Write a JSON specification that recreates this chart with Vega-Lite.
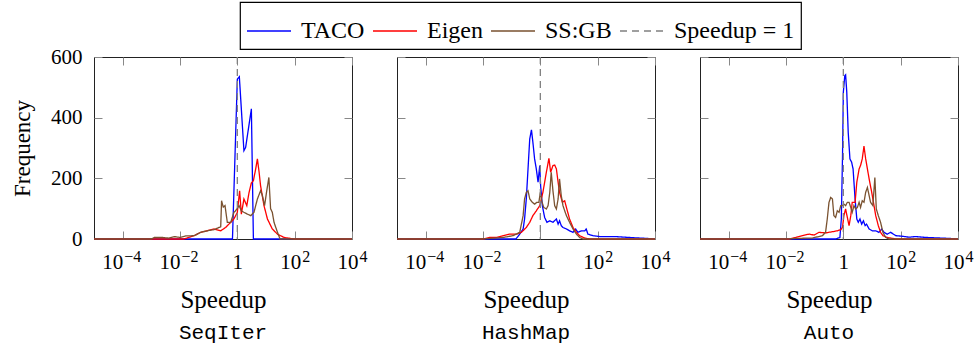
{
 "$schema": "https://vega.github.io/schema/vega-lite/v6.json",
 "background": "white",
 "padding": {"left": 11, "top": 1, "right": 5, "bottom": 5},
 "config": {
  "font": "Liberation Serif",
  "view": {"stroke": "#222222", "strokeWidth": 1},
  "axis": {"labelColor": "black", "titleColor": "black", "labelFont": "Liberation Serif", "titleFont": "Liberation Serif", "titleFontWeight": "normal", "grid": false, "domain": false, "tickColor": "#888888", "tickWidth": 1, "labelFlush": false, "labelOverlap": false, "labelBound": false},
  "legend": {"labelFont": "Liberation Serif", "labelFontSize": 24, "labelColor": "black", "strokeColor": "black", "strokeWidth": 1.2, "fillColor": "white", "padding": 6, "symbolType": "stroke", "symbolSize": 1936, "symbolStrokeWidth": 1.3, "labelOffset": 9, "columnPadding": 5, "labelLimit": 400}
 },
 "data": {"values": [
  {"p":"SeqIter","s":"TACO","x":0.00001,"y":0},{"p":"SeqIter","s":"TACO","x":0.676,"y":0},{"p":"SeqIter","s":"TACO","x":1,"y":527},{"p":"SeqIter","s":"TACO","x":1.175,"y":535},{"p":"SeqIter","s":"TACO","x":1.698,"y":291},{"p":"SeqIter","s":"TACO","x":1.95,"y":302},{"p":"SeqIter","s":"TACO","x":3.09,"y":429},{"p":"SeqIter","s":"TACO","x":3.63,"y":0},{"p":"SeqIter","s":"TACO","x":10000,"y":0},
  {"p":"SeqIter","s":"Eigen","x":0.00001,"y":0},{"p":"SeqIter","s":"Eigen","x":0.0132,"y":0},{"p":"SeqIter","s":"Eigen","x":0.02,"y":5},{"p":"SeqIter","s":"Eigen","x":0.0309,"y":11},{"p":"SeqIter","s":"Eigen","x":0.0525,"y":22},{"p":"SeqIter","s":"Eigen","x":0.0891,"y":27},{"p":"SeqIter","s":"Eigen","x":0.155,"y":33},{"p":"SeqIter","s":"Eigen","x":0.263,"y":27},{"p":"SeqIter","s":"Eigen","x":0.389,"y":38},{"p":"SeqIter","s":"Eigen","x":0.589,"y":55},{"p":"SeqIter","s":"Eigen","x":0.759,"y":66},{"p":"SeqIter","s":"Eigen","x":1,"y":88},{"p":"SeqIter","s":"Eigen","x":1.202,"y":159},{"p":"SeqIter","s":"Eigen","x":1.38,"y":82},{"p":"SeqIter","s":"Eigen","x":1.698,"y":132},{"p":"SeqIter","s":"Eigen","x":2.138,"y":110},{"p":"SeqIter","s":"Eigen","x":2.57,"y":154},{"p":"SeqIter","s":"Eigen","x":3.09,"y":185},{"p":"SeqIter","s":"Eigen","x":3.631,"y":192},{"p":"SeqIter","s":"Eigen","x":4.365,"y":231},{"p":"SeqIter","s":"Eigen","x":5.012,"y":264},{"p":"SeqIter","s":"Eigen","x":5.754,"y":220},{"p":"SeqIter","s":"Eigen","x":6.457,"y":176},{"p":"SeqIter","s":"Eigen","x":8.511,"y":110},{"p":"SeqIter","s":"Eigen","x":11.22,"y":66},{"p":"SeqIter","s":"Eigen","x":16.6,"y":33},{"p":"SeqIter","s":"Eigen","x":25.1,"y":16},{"p":"SeqIter","s":"Eigen","x":42.7,"y":5},{"p":"SeqIter","s":"Eigen","x":95.5,"y":0},{"p":"SeqIter","s":"Eigen","x":10000,"y":0},
  {"p":"SeqIter","s":"SS:GB","x":0.00001,"y":0},{"p":"SeqIter","s":"SS:GB","x":0.001,"y":0},{"p":"SeqIter","s":"SS:GB","x":0.00126,"y":5},{"p":"SeqIter","s":"SS:GB","x":0.00251,"y":5},{"p":"SeqIter","s":"SS:GB","x":0.00398,"y":3},{"p":"SeqIter","s":"SS:GB","x":0.00631,"y":8},{"p":"SeqIter","s":"SS:GB","x":0.01,"y":5},{"p":"SeqIter","s":"SS:GB","x":0.0158,"y":10},{"p":"SeqIter","s":"SS:GB","x":0.0316,"y":11},{"p":"SeqIter","s":"SS:GB","x":0.0525,"y":22},{"p":"SeqIter","s":"SS:GB","x":0.0891,"y":27},{"p":"SeqIter","s":"SS:GB","x":0.155,"y":31},{"p":"SeqIter","s":"SS:GB","x":0.229,"y":38},{"p":"SeqIter","s":"SS:GB","x":0.263,"y":40},{"p":"SeqIter","s":"SS:GB","x":0.282,"y":126},{"p":"SeqIter","s":"SS:GB","x":0.324,"y":105},{"p":"SeqIter","s":"SS:GB","x":0.372,"y":110},{"p":"SeqIter","s":"SS:GB","x":0.447,"y":55},{"p":"SeqIter","s":"SS:GB","x":0.589,"y":55},{"p":"SeqIter","s":"SS:GB","x":0.759,"y":88},{"p":"SeqIter","s":"SS:GB","x":0.871,"y":93},{"p":"SeqIter","s":"SS:GB","x":1.148,"y":110},{"p":"SeqIter","s":"SS:GB","x":1.38,"y":93},{"p":"SeqIter","s":"SS:GB","x":1.698,"y":88},{"p":"SeqIter","s":"SS:GB","x":2.239,"y":82},{"p":"SeqIter","s":"SS:GB","x":2.951,"y":77},{"p":"SeqIter","s":"SS:GB","x":3.802,"y":88},{"p":"SeqIter","s":"SS:GB","x":5.012,"y":132},{"p":"SeqIter","s":"SS:GB","x":6.457,"y":159},{"p":"SeqIter","s":"SS:GB","x":7.413,"y":145},{"p":"SeqIter","s":"SS:GB","x":8.913,"y":110},{"p":"SeqIter","s":"SS:GB","x":10.47,"y":155},{"p":"SeqIter","s":"SS:GB","x":12.59,"y":203},{"p":"SeqIter","s":"SS:GB","x":14.45,"y":100},{"p":"SeqIter","s":"SS:GB","x":16.6,"y":88},{"p":"SeqIter","s":"SS:GB","x":19.05,"y":55},{"p":"SeqIter","s":"SS:GB","x":25.12,"y":22},{"p":"SeqIter","s":"SS:GB","x":30.9,"y":0},{"p":"SeqIter","s":"SS:GB","x":10000,"y":0},
  {"p":"SeqIter","s":"Speedup = 1","x":1,"y":0},
  {"p":"HashMap","s":"TACO","x":0.00001,"y":0},{"p":"HashMap","s":"TACO","x":0.141,"y":0},{"p":"HashMap","s":"TACO","x":0.191,"y":16},{"p":"HashMap","s":"TACO","x":0.251,"y":33},{"p":"HashMap","s":"TACO","x":0.282,"y":66},{"p":"HashMap","s":"TACO","x":0.324,"y":132},{"p":"HashMap","s":"TACO","x":0.372,"y":231},{"p":"HashMap","s":"TACO","x":0.427,"y":330},{"p":"HashMap","s":"TACO","x":0.49,"y":360},{"p":"HashMap","s":"TACO","x":0.55,"y":319},{"p":"HashMap","s":"TACO","x":0.631,"y":264},{"p":"HashMap","s":"TACO","x":0.724,"y":231},{"p":"HashMap","s":"TACO","x":0.832,"y":187},{"p":"HashMap","s":"TACO","x":0.955,"y":242},{"p":"HashMap","s":"TACO","x":1.023,"y":176},{"p":"HashMap","s":"TACO","x":1.175,"y":110},{"p":"HashMap","s":"TACO","x":1.413,"y":71},{"p":"HashMap","s":"TACO","x":1.698,"y":55},{"p":"HashMap","s":"TACO","x":2.138,"y":60},{"p":"HashMap","s":"TACO","x":2.754,"y":55},{"p":"HashMap","s":"TACO","x":3.631,"y":66},{"p":"HashMap","s":"TACO","x":4.169,"y":49},{"p":"HashMap","s":"TACO","x":4.677,"y":60},{"p":"HashMap","s":"TACO","x":5.37,"y":44},{"p":"HashMap","s":"TACO","x":6.166,"y":38},{"p":"HashMap","s":"TACO","x":8.128,"y":33},{"p":"HashMap","s":"TACO","x":10.47,"y":27},{"p":"HashMap","s":"TACO","x":13.8,"y":22},{"p":"HashMap","s":"TACO","x":17.0,"y":33},{"p":"HashMap","s":"TACO","x":20.4,"y":22},{"p":"HashMap","s":"TACO","x":26.9,"y":27},{"p":"HashMap","s":"TACO","x":35.5,"y":27},{"p":"HashMap","s":"TACO","x":39.8,"y":33},{"p":"HashMap","s":"TACO","x":45.7,"y":16},{"p":"HashMap","s":"TACO","x":69.2,"y":11},{"p":"HashMap","s":"TACO","x":117.5,"y":8},{"p":"HashMap","s":"TACO","x":200,"y":8},{"p":"HashMap","s":"TACO","x":398,"y":8},{"p":"HashMap","s":"TACO","x":1259,"y":5},{"p":"HashMap","s":"TACO","x":5012,"y":2},{"p":"HashMap","s":"TACO","x":10000,"y":0},
  {"p":"HashMap","s":"Eigen","x":0.00001,"y":0},{"p":"HashMap","s":"Eigen","x":0.01,"y":0},{"p":"HashMap","s":"Eigen","x":0.017,"y":5},{"p":"HashMap","s":"Eigen","x":0.0295,"y":5},{"p":"HashMap","s":"Eigen","x":0.0501,"y":11},{"p":"HashMap","s":"Eigen","x":0.0851,"y":16},{"p":"HashMap","s":"Eigen","x":0.145,"y":16},{"p":"HashMap","s":"Eigen","x":0.219,"y":22},{"p":"HashMap","s":"Eigen","x":0.324,"y":38},{"p":"HashMap","s":"Eigen","x":0.427,"y":55},{"p":"HashMap","s":"Eigen","x":0.55,"y":77},{"p":"HashMap","s":"Eigen","x":0.724,"y":93},{"p":"HashMap","s":"Eigen","x":0.955,"y":110},{"p":"HashMap","s":"Eigen","x":1.23,"y":154},{"p":"HashMap","s":"Eigen","x":1.622,"y":220},{"p":"HashMap","s":"Eigen","x":1.995,"y":266},{"p":"HashMap","s":"Eigen","x":2.291,"y":220},{"p":"HashMap","s":"Eigen","x":2.754,"y":242},{"p":"HashMap","s":"Eigen","x":3.162,"y":244},{"p":"HashMap","s":"Eigen","x":3.631,"y":231},{"p":"HashMap","s":"Eigen","x":4.169,"y":187},{"p":"HashMap","s":"Eigen","x":4.677,"y":154},{"p":"HashMap","s":"Eigen","x":5.888,"y":121},{"p":"HashMap","s":"Eigen","x":7.079,"y":126},{"p":"HashMap","s":"Eigen","x":8.128,"y":104},{"p":"HashMap","s":"Eigen","x":10.47,"y":66},{"p":"HashMap","s":"Eigen","x":13.8,"y":38},{"p":"HashMap","s":"Eigen","x":18.2,"y":22},{"p":"HashMap","s":"Eigen","x":23.4,"y":11},{"p":"HashMap","s":"Eigen","x":35.5,"y":3},{"p":"HashMap","s":"Eigen","x":52.5,"y":0},{"p":"HashMap","s":"Eigen","x":10000,"y":0},
  {"p":"HashMap","s":"SS:GB","x":0.00001,"y":0},{"p":"HashMap","s":"SS:GB","x":0.01,"y":0},{"p":"HashMap","s":"SS:GB","x":0.017,"y":2},{"p":"HashMap","s":"SS:GB","x":0.0501,"y":5},{"p":"HashMap","s":"SS:GB","x":0.112,"y":11},{"p":"HashMap","s":"SS:GB","x":0.191,"y":22},{"p":"HashMap","s":"SS:GB","x":0.251,"y":77},{"p":"HashMap","s":"SS:GB","x":0.282,"y":132},{"p":"HashMap","s":"SS:GB","x":0.324,"y":154},{"p":"HashMap","s":"SS:GB","x":0.372,"y":159},{"p":"HashMap","s":"SS:GB","x":0.427,"y":132},{"p":"HashMap","s":"SS:GB","x":0.525,"y":121},{"p":"HashMap","s":"SS:GB","x":0.631,"y":115},{"p":"HashMap","s":"SS:GB","x":0.759,"y":121},{"p":"HashMap","s":"SS:GB","x":0.891,"y":121},{"p":"HashMap","s":"SS:GB","x":1,"y":154},{"p":"HashMap","s":"SS:GB","x":1.148,"y":121},{"p":"HashMap","s":"SS:GB","x":1.318,"y":104},{"p":"HashMap","s":"SS:GB","x":1.622,"y":99},{"p":"HashMap","s":"SS:GB","x":1.862,"y":110},{"p":"HashMap","s":"SS:GB","x":2.138,"y":154},{"p":"HashMap","s":"SS:GB","x":2.399,"y":220},{"p":"HashMap","s":"SS:GB","x":2.754,"y":159},{"p":"HashMap","s":"SS:GB","x":3.162,"y":110},{"p":"HashMap","s":"SS:GB","x":3.631,"y":99},{"p":"HashMap","s":"SS:GB","x":4.169,"y":132},{"p":"HashMap","s":"SS:GB","x":4.677,"y":198},{"p":"HashMap","s":"SS:GB","x":5.37,"y":143},{"p":"HashMap","s":"SS:GB","x":6.166,"y":110},{"p":"HashMap","s":"SS:GB","x":7.079,"y":93},{"p":"HashMap","s":"SS:GB","x":8.128,"y":77},{"p":"HashMap","s":"SS:GB","x":10.47,"y":55},{"p":"HashMap","s":"SS:GB","x":13.8,"y":33},{"p":"HashMap","s":"SS:GB","x":18.2,"y":16},{"p":"HashMap","s":"SS:GB","x":23.4,"y":5},{"p":"HashMap","s":"SS:GB","x":30.9,"y":0},{"p":"HashMap","s":"SS:GB","x":10000,"y":0},
  {"p":"HashMap","s":"Speedup = 1","x":1,"y":0},
  {"p":"Auto","s":"TACO","x":0.00001,"y":0},{"p":"Auto","s":"TACO","x":0.537,"y":0},{"p":"Auto","s":"TACO","x":0.759,"y":5},{"p":"Auto","s":"TACO","x":0.851,"y":66},{"p":"Auto","s":"TACO","x":0.933,"y":264},{"p":"Auto","s":"TACO","x":1,"y":484},{"p":"Auto","s":"TACO","x":1.122,"y":538},{"p":"Auto","s":"TACO","x":1.202,"y":541},{"p":"Auto","s":"TACO","x":1.318,"y":484},{"p":"Auto","s":"TACO","x":1.479,"y":352},{"p":"Auto","s":"TACO","x":1.698,"y":264},{"p":"Auto","s":"TACO","x":1.95,"y":253},{"p":"Auto","s":"TACO","x":2.188,"y":231},{"p":"Auto","s":"TACO","x":2.57,"y":132},{"p":"Auto","s":"TACO","x":2.951,"y":66},{"p":"Auto","s":"TACO","x":3.311,"y":55},{"p":"Auto","s":"TACO","x":3.802,"y":66},{"p":"Auto","s":"TACO","x":4.365,"y":49},{"p":"Auto","s":"TACO","x":5.012,"y":60},{"p":"Auto","s":"TACO","x":5.754,"y":44},{"p":"Auto","s":"TACO","x":6.457,"y":49},{"p":"Auto","s":"TACO","x":7.943,"y":33},{"p":"Auto","s":"TACO","x":10.23,"y":27},{"p":"Auto","s":"TACO","x":13.49,"y":27},{"p":"Auto","s":"TACO","x":17.38,"y":22},{"p":"Auto","s":"TACO","x":21.88,"y":33},{"p":"Auto","s":"TACO","x":26.3,"y":22},{"p":"Auto","s":"TACO","x":33.9,"y":16},{"p":"Auto","s":"TACO","x":44.7,"y":22},{"p":"Auto","s":"TACO","x":67.6,"y":11},{"p":"Auto","s":"TACO","x":114.8,"y":9},{"p":"Auto","s":"TACO","x":195,"y":6},{"p":"Auto","s":"TACO","x":331,"y":8},{"p":"Auto","s":"TACO","x":794,"y":5},{"p":"Auto","s":"TACO","x":5012,"y":2},{"p":"Auto","s":"TACO","x":10000,"y":0},
  {"p":"Auto","s":"Eigen","x":0.00001,"y":0},{"p":"Auto","s":"Eigen","x":0.0126,"y":0},{"p":"Auto","s":"Eigen","x":0.0219,"y":5},{"p":"Auto","s":"Eigen","x":0.0372,"y":11},{"p":"Auto","s":"Eigen","x":0.0631,"y":16},{"p":"Auto","s":"Eigen","x":0.0955,"y":13},{"p":"Auto","s":"Eigen","x":0.141,"y":22},{"p":"Auto","s":"Eigen","x":0.24,"y":20},{"p":"Auto","s":"Eigen","x":0.417,"y":24},{"p":"Auto","s":"Eigen","x":0.617,"y":27},{"p":"Auto","s":"Eigen","x":0.813,"y":31},{"p":"Auto","s":"Eigen","x":0.933,"y":38},{"p":"Auto","s":"Eigen","x":1.047,"y":77},{"p":"Auto","s":"Eigen","x":1.202,"y":99},{"p":"Auto","s":"Eigen","x":1.38,"y":71},{"p":"Auto","s":"Eigen","x":1.585,"y":44},{"p":"Auto","s":"Eigen","x":1.82,"y":77},{"p":"Auto","s":"Eigen","x":2.042,"y":121},{"p":"Auto","s":"Eigen","x":2.57,"y":121},{"p":"Auto","s":"Eigen","x":2.951,"y":187},{"p":"Auto","s":"Eigen","x":3.548,"y":231},{"p":"Auto","s":"Eigen","x":3.981,"y":242},{"p":"Auto","s":"Eigen","x":4.571,"y":264},{"p":"Auto","s":"Eigen","x":5.248,"y":306},{"p":"Auto","s":"Eigen","x":6.026,"y":264},{"p":"Auto","s":"Eigen","x":6.918,"y":231},{"p":"Auto","s":"Eigen","x":7.943,"y":198},{"p":"Auto","s":"Eigen","x":9.772,"y":154},{"p":"Auto","s":"Eigen","x":11.75,"y":110},{"p":"Auto","s":"Eigen","x":13.49,"y":77},{"p":"Auto","s":"Eigen","x":16.6,"y":44},{"p":"Auto","s":"Eigen","x":19.95,"y":22},{"p":"Auto","s":"Eigen","x":23.99,"y":11},{"p":"Auto","s":"Eigen","x":33.9,"y":5},{"p":"Auto","s":"Eigen","x":67.6,"y":0},{"p":"Auto","s":"Eigen","x":10000,"y":0},
  {"p":"Auto","s":"SS:GB","x":0.00001,"y":0},{"p":"Auto","s":"SS:GB","x":0.01,"y":0},{"p":"Auto","s":"SS:GB","x":0.0219,"y":2},{"p":"Auto","s":"SS:GB","x":0.0832,"y":3},{"p":"Auto","s":"SS:GB","x":0.186,"y":11},{"p":"Auto","s":"SS:GB","x":0.24,"y":22},{"p":"Auto","s":"SS:GB","x":0.275,"y":66},{"p":"Auto","s":"SS:GB","x":0.316,"y":121},{"p":"Auto","s":"SS:GB","x":0.363,"y":137},{"p":"Auto","s":"SS:GB","x":0.417,"y":132},{"p":"Auto","s":"SS:GB","x":0.468,"y":77},{"p":"Auto","s":"SS:GB","x":0.537,"y":71},{"p":"Auto","s":"SS:GB","x":0.617,"y":93},{"p":"Auto","s":"SS:GB","x":0.708,"y":88},{"p":"Auto","s":"SS:GB","x":0.813,"y":110},{"p":"Auto","s":"SS:GB","x":0.933,"y":110},{"p":"Auto","s":"SS:GB","x":1.047,"y":115},{"p":"Auto","s":"SS:GB","x":1.202,"y":110},{"p":"Auto","s":"SS:GB","x":1.38,"y":121},{"p":"Auto","s":"SS:GB","x":1.585,"y":121},{"p":"Auto","s":"SS:GB","x":1.82,"y":104},{"p":"Auto","s":"SS:GB","x":2.042,"y":88},{"p":"Auto","s":"SS:GB","x":2.344,"y":110},{"p":"Auto","s":"SS:GB","x":2.692,"y":99},{"p":"Auto","s":"SS:GB","x":3.09,"y":104},{"p":"Auto","s":"SS:GB","x":3.548,"y":121},{"p":"Auto","s":"SS:GB","x":3.981,"y":104},{"p":"Auto","s":"SS:GB","x":4.571,"y":126},{"p":"Auto","s":"SS:GB","x":5.248,"y":121},{"p":"Auto","s":"SS:GB","x":6.026,"y":154},{"p":"Auto","s":"SS:GB","x":6.918,"y":170},{"p":"Auto","s":"SS:GB","x":7.943,"y":143},{"p":"Auto","s":"SS:GB","x":8.913,"y":121},{"p":"Auto","s":"SS:GB","x":10.72,"y":110},{"p":"Auto","s":"SS:GB","x":12.59,"y":203},{"p":"Auto","s":"SS:GB","x":14.13,"y":99},{"p":"Auto","s":"SS:GB","x":16.6,"y":77},{"p":"Auto","s":"SS:GB","x":19.95,"y":55},{"p":"Auto","s":"SS:GB","x":23.99,"y":22},{"p":"Auto","s":"SS:GB","x":30.2,"y":5},{"p":"Auto","s":"SS:GB","x":38.9,"y":0},{"p":"Auto","s":"SS:GB","x":10000,"y":0},
  {"p":"Auto","s":"Speedup = 1","x":1,"y":0}
 ]},
 "spacing": 45,
 "bounds": "flush",
 "resolve": {"scale": {"color": "shared", "strokeDash": "shared"}, "legend": {"color": "shared", "strokeDash": "shared"}},
 "hconcat": [
  {
   "width": 258, "height": 182,
   "title": {"text": "SeqIter", "orient": "bottom", "font": "Liberation Mono", "fontSize": 21, "fontWeight": "normal", "color": "black", "offset": 10},
   "transform": [{"filter": "datum.p == 'SeqIter'"}],
   "resolve": {"axis": {"x": "independent", "y": "independent"}},
   "layer": [
    {"transform": [{"filter": "datum.s != 'Speedup = 1'"}],
     "mark": {"type": "line", "strokeWidth": 1.3},
     "encoding": {
      "x": {"field": "x", "type": "quantitative", "scale": {"type": "log", "domain": [0.00001, 10000]}, "axis": {"orient": "bottom", "values": [0.0001, 0.01, 1, 100, 10000], "labelExpr": "datum.value == 1 ? '1' : '10'", "labelAlign": {"condition": {"test": "datum.value == 1", "value": "center"}, "value": "right"}, "labelOffset": {"condition": {"test": "datum.value > 1", "value": 6}, "value": 0}, "labelFontSize": 21, "tickSize": -8, "labelPadding": 20, "title": "Speedup", "titleFontSize": 25, "titlePadding": 15}},
      "y": {"field": "y", "type": "quantitative", "scale": {"domain": [0, 600]}, "axis": {"orient": "left", "values": [0, 200, 400, 600], "labelFontSize": 21, "tickSize": -8, "labelPadding": 20, "title": "Frequency", "titleFontSize": 23, "titlePadding": 16}},
      "color": {"field": "s", "type": "nominal", "scale": {"domain": ["TACO", "Eigen", "SS:GB", "Speedup = 1"], "range": ["#0000ff", "#ff0000", "#7a5230", "#808080"]}, "legend": {"title": null, "orient": "none", "direction": "horizontal", "legendX": 146, "legendY": -55}},
      "strokeDash": {"field": "s", "type": "nominal", "scale": {"domain": ["TACO", "Eigen", "SS:GB", "Speedup = 1"], "range": [[1, 0], [1, 0], [1, 0], [7, 5]]}, "legend": {"title": null, "orient": "none", "direction": "horizontal", "legendX": 146, "legendY": -55}}
     }},
    {"transform": [{"filter": "datum.s == 'Speedup = 1'"}],
     "mark": {"type": "rule", "strokeWidth": 1.3},
     "encoding": {
      "x": {"field": "x", "type": "quantitative", "scale": {"type": "log", "domain": [0.00001, 10000]}, "axis": {"orient": "top", "values": [0.0001, 0.01, 1, 100, 10000], "labels": false, "tickSize": -8, "title": null}},
      "color": {"field": "s", "type": "nominal", "scale": {"domain": ["TACO", "Eigen", "SS:GB", "Speedup = 1"], "range": ["#0000ff", "#ff0000", "#7a5230", "#808080"]}, "legend": {"title": null, "orient": "none", "direction": "horizontal", "legendX": 146, "legendY": -55}},
      "strokeDash": {"field": "s", "type": "nominal", "scale": {"domain": ["TACO", "Eigen", "SS:GB", "Speedup = 1"], "range": [[1, 0], [1, 0], [1, 0], [7, 5]]}, "legend": {"title": null, "orient": "none", "direction": "horizontal", "legendX": 146, "legendY": -55}}
     }},
    {"transform": [{"filter": "datum.s != 'Speedup = 1'"}],
     "mark": {"type": "line", "strokeOpacity": 0},
     "encoding": {
      "x": {"field": "x", "type": "quantitative", "scale": {"type": "log", "domain": [0.00001, 10000]}, "axis": {"orient": "bottom", "values": [0.0001, 0.01, 1, 100, 10000], "ticks": false, "labelExpr": "datum.value < 0.001 ? '−4' : datum.value < 0.1 ? '−2' : datum.value < 10 ? '' : datum.value < 1000 ? '2' : '4'", "labelAlign": "left", "labelOffset": {"condition": {"test": "datum.value > 1", "value": 7}, "value": 1}, "labelFontSize": 16, "labelPadding": 9, "title": null}},
      "y": {"field": "y", "type": "quantitative", "scale": {"domain": [0, 600]}, "axis": {"orient": "right", "values": [0, 200, 400, 600], "labels": false, "tickSize": -8, "title": null}},
      "detail": {"field": "s", "type": "nominal"}
     }}
   ]
  },
  {
   "width": 258, "height": 182,
   "title": {"text": "HashMap", "orient": "bottom", "font": "Liberation Mono", "fontSize": 21, "fontWeight": "normal", "color": "black", "offset": 10},
   "transform": [{"filter": "datum.p == 'HashMap'"}],
   "resolve": {"axis": {"x": "independent", "y": "independent"}},
   "layer": [
    {"transform": [{"filter": "datum.s != 'Speedup = 1'"}],
     "mark": {"type": "line", "strokeWidth": 1.3},
     "encoding": {
      "x": {"field": "x", "type": "quantitative", "scale": {"type": "log", "domain": [0.00001, 10000]}, "axis": {"orient": "bottom", "values": [0.0001, 0.01, 1, 100, 10000], "labelExpr": "datum.value == 1 ? '1' : '10'", "labelAlign": {"condition": {"test": "datum.value == 1", "value": "center"}, "value": "right"}, "labelOffset": {"condition": {"test": "datum.value > 1", "value": 6}, "value": 0}, "labelFontSize": 21, "tickSize": -8, "labelPadding": 20, "title": "Speedup", "titleFontSize": 25, "titlePadding": 15}},
      "y": {"field": "y", "type": "quantitative", "scale": {"domain": [0, 600]}, "axis": {"orient": "left", "values": [0, 200, 400, 600], "labels": false, "tickSize": -8, "title": null}},
      "color": {"field": "s", "type": "nominal", "scale": {"domain": ["TACO", "Eigen", "SS:GB", "Speedup = 1"], "range": ["#0000ff", "#ff0000", "#7a5230", "#808080"]}, "legend": {"title": null, "orient": "none", "direction": "horizontal", "legendX": 146, "legendY": -55}},
      "strokeDash": {"field": "s", "type": "nominal", "scale": {"domain": ["TACO", "Eigen", "SS:GB", "Speedup = 1"], "range": [[1, 0], [1, 0], [1, 0], [7, 5]]}, "legend": {"title": null, "orient": "none", "direction": "horizontal", "legendX": 146, "legendY": -55}}
     }},
    {"transform": [{"filter": "datum.s == 'Speedup = 1'"}],
     "mark": {"type": "rule", "strokeWidth": 1.3},
     "encoding": {
      "x": {"field": "x", "type": "quantitative", "scale": {"type": "log", "domain": [0.00001, 10000]}, "axis": {"orient": "top", "values": [0.0001, 0.01, 1, 100, 10000], "labels": false, "tickSize": -8, "title": null}},
      "color": {"field": "s", "type": "nominal", "scale": {"domain": ["TACO", "Eigen", "SS:GB", "Speedup = 1"], "range": ["#0000ff", "#ff0000", "#7a5230", "#808080"]}, "legend": {"title": null, "orient": "none", "direction": "horizontal", "legendX": 146, "legendY": -55}},
      "strokeDash": {"field": "s", "type": "nominal", "scale": {"domain": ["TACO", "Eigen", "SS:GB", "Speedup = 1"], "range": [[1, 0], [1, 0], [1, 0], [7, 5]]}, "legend": {"title": null, "orient": "none", "direction": "horizontal", "legendX": 146, "legendY": -55}}
     }},
    {"transform": [{"filter": "datum.s != 'Speedup = 1'"}],
     "mark": {"type": "line", "strokeOpacity": 0},
     "encoding": {
      "x": {"field": "x", "type": "quantitative", "scale": {"type": "log", "domain": [0.00001, 10000]}, "axis": {"orient": "bottom", "values": [0.0001, 0.01, 1, 100, 10000], "ticks": false, "labelExpr": "datum.value < 0.001 ? '−4' : datum.value < 0.1 ? '−2' : datum.value < 10 ? '' : datum.value < 1000 ? '2' : '4'", "labelAlign": "left", "labelOffset": {"condition": {"test": "datum.value > 1", "value": 7}, "value": 1}, "labelFontSize": 16, "labelPadding": 9, "title": null}},
      "y": {"field": "y", "type": "quantitative", "scale": {"domain": [0, 600]}, "axis": {"orient": "right", "values": [0, 200, 400, 600], "labels": false, "tickSize": -8, "title": null}},
      "detail": {"field": "s", "type": "nominal"}
     }}
   ]
  },
  {
   "width": 258, "height": 182,
   "title": {"text": "Auto", "orient": "bottom", "font": "Liberation Mono", "fontSize": 21, "fontWeight": "normal", "color": "black", "offset": 10},
   "transform": [{"filter": "datum.p == 'Auto'"}],
   "resolve": {"axis": {"x": "independent", "y": "independent"}},
   "layer": [
    {"transform": [{"filter": "datum.s != 'Speedup = 1'"}],
     "mark": {"type": "line", "strokeWidth": 1.3},
     "encoding": {
      "x": {"field": "x", "type": "quantitative", "scale": {"type": "log", "domain": [0.00001, 10000]}, "axis": {"orient": "bottom", "values": [0.0001, 0.01, 1, 100, 10000], "labelExpr": "datum.value == 1 ? '1' : '10'", "labelAlign": {"condition": {"test": "datum.value == 1", "value": "center"}, "value": "right"}, "labelOffset": {"condition": {"test": "datum.value > 1", "value": 6}, "value": 0}, "labelFontSize": 21, "tickSize": -8, "labelPadding": 20, "title": "Speedup", "titleFontSize": 25, "titlePadding": 15}},
      "y": {"field": "y", "type": "quantitative", "scale": {"domain": [0, 600]}, "axis": {"orient": "left", "values": [0, 200, 400, 600], "labels": false, "tickSize": -8, "title": null}},
      "color": {"field": "s", "type": "nominal", "scale": {"domain": ["TACO", "Eigen", "SS:GB", "Speedup = 1"], "range": ["#0000ff", "#ff0000", "#7a5230", "#808080"]}, "legend": {"title": null, "orient": "none", "direction": "horizontal", "legendX": 146, "legendY": -55}},
      "strokeDash": {"field": "s", "type": "nominal", "scale": {"domain": ["TACO", "Eigen", "SS:GB", "Speedup = 1"], "range": [[1, 0], [1, 0], [1, 0], [7, 5]]}, "legend": {"title": null, "orient": "none", "direction": "horizontal", "legendX": 146, "legendY": -55}}
     }},
    {"transform": [{"filter": "datum.s == 'Speedup = 1'"}],
     "mark": {"type": "rule", "strokeWidth": 1.3},
     "encoding": {
      "x": {"field": "x", "type": "quantitative", "scale": {"type": "log", "domain": [0.00001, 10000]}, "axis": {"orient": "top", "values": [0.0001, 0.01, 1, 100, 10000], "labels": false, "tickSize": -8, "title": null}},
      "color": {"field": "s", "type": "nominal", "scale": {"domain": ["TACO", "Eigen", "SS:GB", "Speedup = 1"], "range": ["#0000ff", "#ff0000", "#7a5230", "#808080"]}, "legend": {"title": null, "orient": "none", "direction": "horizontal", "legendX": 146, "legendY": -55}},
      "strokeDash": {"field": "s", "type": "nominal", "scale": {"domain": ["TACO", "Eigen", "SS:GB", "Speedup = 1"], "range": [[1, 0], [1, 0], [1, 0], [7, 5]]}, "legend": {"title": null, "orient": "none", "direction": "horizontal", "legendX": 146, "legendY": -55}}
     }},
    {"transform": [{"filter": "datum.s != 'Speedup = 1'"}],
     "mark": {"type": "line", "strokeOpacity": 0},
     "encoding": {
      "x": {"field": "x", "type": "quantitative", "scale": {"type": "log", "domain": [0.00001, 10000]}, "axis": {"orient": "bottom", "values": [0.0001, 0.01, 1, 100, 10000], "ticks": false, "labelExpr": "datum.value < 0.001 ? '−4' : datum.value < 0.1 ? '−2' : datum.value < 10 ? '' : datum.value < 1000 ? '2' : '4'", "labelAlign": "left", "labelOffset": {"condition": {"test": "datum.value > 1", "value": 7}, "value": 1}, "labelFontSize": 16, "labelPadding": 9, "title": null}},
      "y": {"field": "y", "type": "quantitative", "scale": {"domain": [0, 600]}, "axis": {"orient": "right", "values": [0, 200, 400, 600], "labels": false, "tickSize": -8, "title": null}},
      "detail": {"field": "s", "type": "nominal"}
     }}
   ]
  }
 ]
}
